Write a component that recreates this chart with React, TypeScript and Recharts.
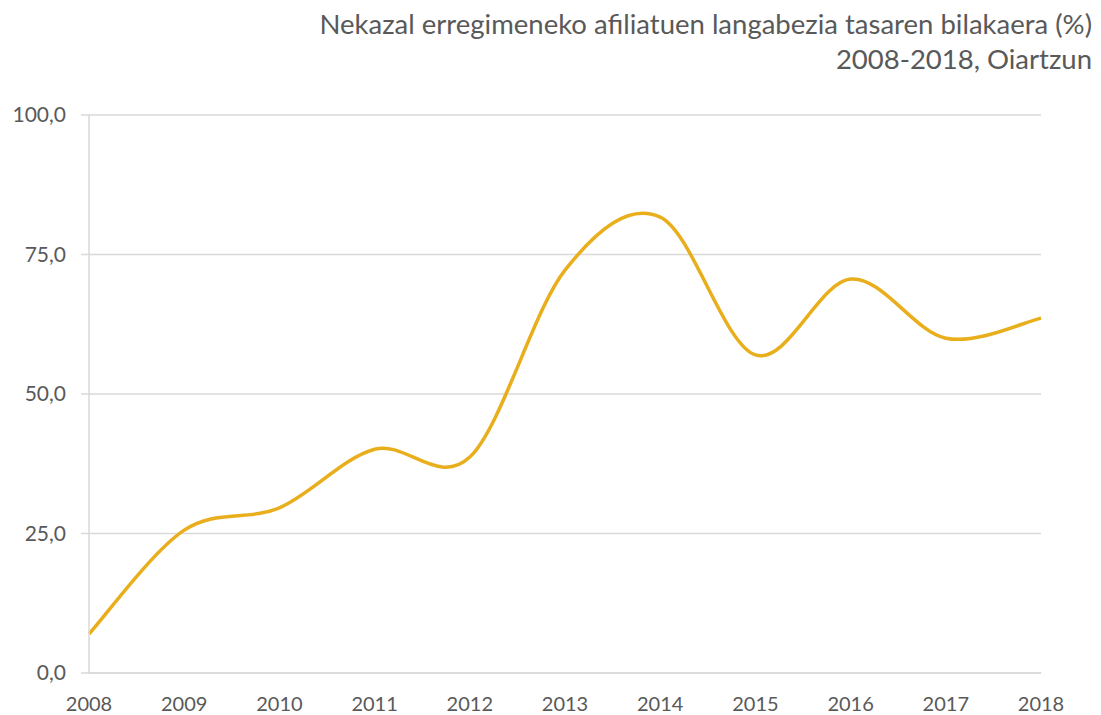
import React from 'react';
import { CartesianGrid, Line, LineChart, XAxis, YAxis } from 'recharts';

const years = ['2008', '2009', '2010', '2011', '2012', '2013', '2014', '2015', '2016', '2017', '2018'];
const rates = [7.0, 25.6, 29.6, 40.1, 38.7, 72.2, 81.7, 57.0, 70.6, 60.0, 63.6];
const yTicks = [0, 25, 50, 75, 100];

const data = years.map((year, i) => ({ year, rate: rates[i] }));

const FONT = 'Lato, "Open Sans", sans-serif';
const GREY = '#595959';

// Excel-like smoothed line (Catmull-Rom as cubic bezier)
const smoothCurve = (context: any) => {
	let pts: number[][] = [];
	return {
		areaStart() {},
		areaEnd() {},
		lineStart() {
			pts = [];
		},
		point(x: number, y: number) {
			pts.push([+x, +y]);
		},
		lineEnd() {
			if (!pts.length) return;
			context.moveTo(pts[0][0], pts[0][1]);
			for (let i = 0; i < pts.length - 1; i++) {
				const p0 = pts[i - 1] || pts[i];
				const p1 = pts[i];
				const p2 = pts[i + 1];
				const p3 = pts[i + 2] || pts[i + 1];
				context.bezierCurveTo(
					p1[0] + (p2[0] - p0[0]) / 6,
					p1[1] + (p2[1] - p0[1]) / 6,
					p2[0] - (p3[0] - p1[0]) / 6,
					p2[1] - (p3[1] - p1[1]) / 6,
					p2[0],
					p2[1]
				);
			}
		},
	};
};

const App = () => {
	return (
		<div style={{ position: 'absolute', left: 0, top: 0, width: 1101, height: 715, background: '#fff' }}>
			<div
				style={{
					position: 'absolute',
					right: 9,
					top: 6,
					textAlign: 'right',
					fontFamily: FONT,
					fontSize: 27.5,
					lineHeight: '35px',
					color: GREY,
				}}
			>
				<div>Nekazal erregimeneko afiliatuen langabezia tasaren bilakaera (%)</div>
				<div>2008-2018, Oiartzun</div>
			</div>
			<LineChart
				width={1101}
				height={715}
				data={data}
				margin={{ top: 115, right: 60, bottom: 0, left: 0 }}
			>
				<CartesianGrid vertical={false} stroke="#d9d9d9" strokeWidth={1.5} />
				<XAxis
					dataKey="year"
					height={42}
					tickLine={false}
					axisLine={{ stroke: '#d9d9d9', strokeWidth: 1.5 }}
					tick={{ fill: GREY, fontSize: 20, fontFamily: FONT }}
					tickMargin={18}
					interval={0}
				/>
				<YAxis
					width={89}
					domain={[0, 100]}
					ticks={yTicks}
					tickFormatter={(v: number) => v.toFixed(1).replace('.', ',')}
					tickSize={8}
					tickMargin={15}
					tickLine={{ stroke: '#d9d9d9', strokeWidth: 1.5 }}
					axisLine={{ stroke: '#d9d9d9', strokeWidth: 1.5 }}
					tick={{ fill: GREY, fontSize: 21, fontFamily: FONT }}
				/>
				<Line
					type={smoothCurve as any}
					dataKey="rate"
					stroke="#E9AE1C"
					strokeWidth={3.5}
					dot={false}
					isAnimationActive={false}
				/>
			</LineChart>
		</div>
	);
};

export default App;
